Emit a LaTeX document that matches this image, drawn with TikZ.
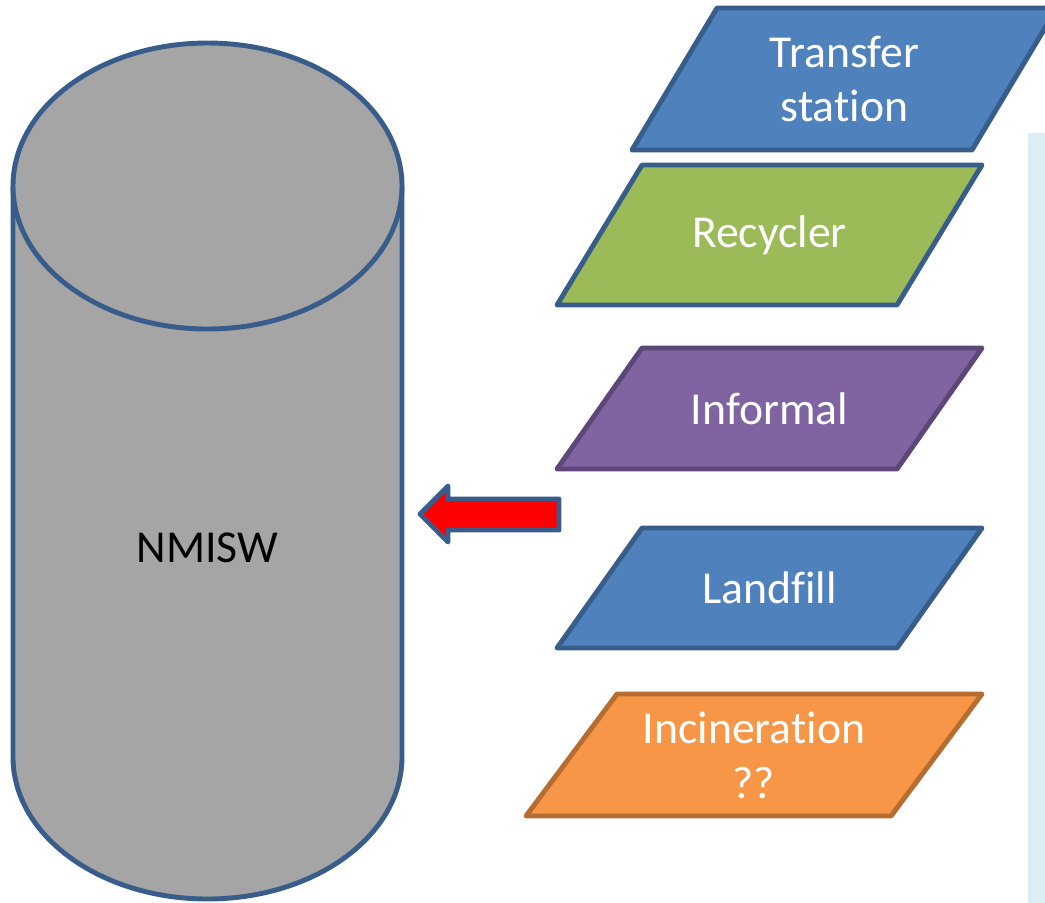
\documentclass[tikz,border=0pt]{standalone}
\usepackage{fontspec}
\setmainfont[Ligatures=NoCommon]{Carlito}
\usetikzlibrary{calc}
\definecolor{tsblue}{HTML}{4F81BD}
\definecolor{edgeblue}{HTML}{385D8A}
\definecolor{recgreen}{HTML}{9BBB59}
\definecolor{infpurple}{HTML}{8064A2}
\definecolor{infedge}{HTML}{5C4776}
\definecolor{incorange}{HTML}{F79646}
\definecolor{incedge}{HTML}{B66D31}
\definecolor{cylgray}{HTML}{A5A5A5}
\definecolor{panelblue}{HTML}{DAEEF3}
\tikzset{
    stage/.style={line width=1.4pt, line join=round},
    lbl/.style={text=white, align=center, font=\fontsize{13}{15.6}\selectfont},
    cyl/.style={line width=1.4pt, draw=edgeblue}
}

\begin{document}
\begin{tikzpicture}[x=0.01cm, y=-0.01cm]
    \useasboundingbox (0, 0) rectangle (1045, 902);
    \clip (0, 0) rectangle (1045, 902);
    \fill [panelblue] (1028, 133) rectangle (1060, 910);
    % cylinder
    \fill [cylgray] (13, 186) -- (13, 757) arc [start angle=180, end angle=0, x radius=194.5, y radius=142] -- (402, 186) -- cycle;
    \draw [cyl] (13, 186) -- (13, 757) arc [start angle=180, end angle=0, x radius=194.5, y radius=142] -- (402, 186);
    \draw [cyl, fill=cylgray] (207.5, 186) ellipse [x radius=194.5, y radius=143];
    \node [font=\fontsize{13}{15.6}\selectfont] (nmisw) at (207.5, 548) {NMISW};
    % parallelograms
    \foreach \nm/\xl/\yt/\yb/\w/\sl/\fc/\dc/\txt in {
        trans/717/8/150/340/85/tsblue/edgeblue/{Transfer\\station},
        recyc/642/165/305/340/85/recgreen/edgeblue/{Recycler},
        inform/642/348/469/340/85/infpurple/infedge/{Informal},
        landf/642/528/648/340/85/tsblue/edgeblue/{Landfill},
        incin/617/694/816/365/91/incorange/incedge/{Incineration\\??}}{
        \draw [stage, fill=\fc, draw=\dc] (\xl, \yt) -- ++(\w, 0) -- ({\xl+\w-\sl}, \yb) -- ({\xl-\sl}, \yb) -- cycle;
        \node [lbl] (\nm) at ({\xl+(\w-\sl)/2}, {(\yt+\yb)/2}) {\txt};
    }
    % block arrow
    \draw [stage, draw=edgeblue, fill=red] (559, 499) -- (448, 499) -- (448, 486) -- (420, 514) -- (448, 542) -- (448, 530) -- (559, 530) -- cycle;
\end{tikzpicture}
\end{document}
